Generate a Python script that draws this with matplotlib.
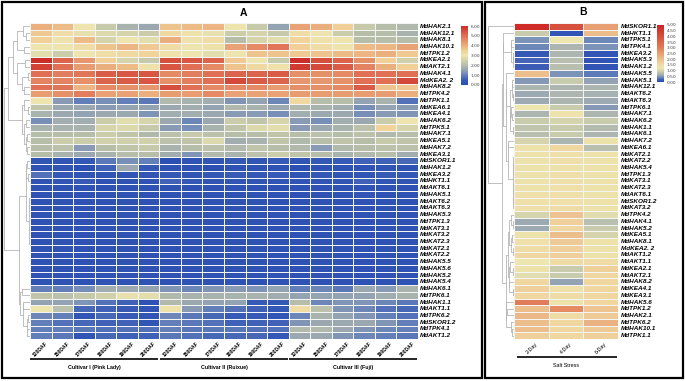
import numpy as np
import matplotlib
matplotlib.use("Agg")
import matplotlib.pyplot as plt
from matplotlib.colors import LinearSegmentedColormap
from matplotlib.patches import Rectangle

# ---- panel A data (fruit development) ----
genes_a = ["MdHAK2.1", "MdHAK12.1", "MdHAK8.1", "MdHAK10.1", "MdTPK1.2", "MdKEA2.1",
           "MdAKT2.1", "MdHAK4.1", "MdKEA2. 2", "MdHAK8.2", "MdTPK4.2", "MdTPK1.1",
           "MdKEA6.1", "MdKEA4.1", "MdHAK6.2", "MdTPK5.1", "MdHAK7.1", "MdKEA5.1",
           "MdHAK7.2", "MdKEA3.1", "MdSKOR1.1", "MdHAK1.2", "MdKEA3.2", "MdHKT1.1",
           "MdAKT6.1", "MdHAK5.1", "MdAKT6.2", "MdAKT6.3", "MdHAK5.3", "MdTPK1.3",
           "MdKAT3.1", "MdKAT3.2", "MdKAT2.3", "MdKAT2.1", "MdKAT2.2", "MdHAK5.5",
           "MdHAK5.6", "MdHAK5.2", "MdHAK5.4", "MdHAK6.1", "MdTPK6.1", "MdHAK1.1",
           "MdAKT1.1", "MdTPK6.2", "MdSKOR1.2", "MdTPK4.1", "MdAKT1.2"]
stages = ["120DAF", "150DAF", "170DAF", "180DAF", "190DAF", "200DAF"]
cultivars = ["Cultivar I (Pink Lady)", "Cultivar II (Ruixue)", "Cultivar III (Fuji)"]

vals_a = [
    [4.0, 3.8, 3.0, 2.3, 1.8, 1.6, 3.7, 3.8, 3.9, 3.0, 2.3, 1.5, 4.2, 4.0, 3.5, 2.3, 2.0, 1.9],
    [3.6, 3.2, 2.9, 2.7, 2.6, 2.4, 3.3, 3.1, 2.9, 2.4, 2.6, 2.3, 3.2, 3.0, 2.4, 2.0, 2.0, 1.8],
    [3.5, 3.1, 3.8, 2.6, 3.0, 2.8, 4.0, 3.1, 3.2, 2.0, 2.6, 2.8, 3.4, 3.1, 3.0, 2.0, 2.0, 2.0],
    [3.0, 3.0, 3.2, 3.7, 3.9, 3.6, 3.2, 3.0, 3.1, 4.2, 4.6, 4.9, 3.5, 3.2, 3.0, 3.8, 3.9, 4.2],
    [2.8, 2.4, 3.0, 3.2, 3.3, 3.4, 3.1, 3.0, 2.8, 3.0, 3.7, 3.7, 3.6, 3.7, 3.8, 3.9, 4.0, 3.6],
    [6.0, 5.2, 4.4, 3.5, 2.6, 2.3, 5.5, 5.4, 5.2, 3.6, 3.0, 2.3, 6.0, 5.5, 5.2, 4.5, 3.5, 2.5],
    [5.7, 5.0, 4.3, 4.0, 3.8, 3.1, 5.4, 5.0, 4.6, 3.7, 3.3, 3.1, 5.8, 5.6, 5.3, 4.7, 4.0, 3.5],
    [5.0, 4.8, 4.9, 5.3, 5.4, 5.4, 4.6, 4.8, 5.0, 5.2, 5.2, 5.3, 4.5, 4.5, 4.6, 5.0, 5.0, 5.0],
    [4.7, 4.7, 4.5, 5.2, 5.3, 5.4, 4.5, 4.8, 5.0, 5.6, 5.3, 5.2, 4.4, 4.4, 4.5, 5.0, 5.0, 5.6],
    [5.0, 4.9, 3.9, 4.6, 4.5, 4.4, 5.5, 5.0, 4.6, 4.6, 4.6, 4.3, 4.5, 4.5, 4.6, 5.3, 3.7, 3.6],
    [4.3, 4.5, 4.8, 4.2, 4.2, 4.0, 4.3, 4.3, 4.6, 4.2, 4.2, 4.2, 4.3, 4.3, 4.3, 4.3, 4.3, 4.0],
    [3.0, 1.4, 1.0, 1.2, 1.0, 0.9, 1.9, 1.8, 1.7, 1.3, 1.5, 1.1, 3.3, 2.0, 2.0, 1.5, 1.8, 0.8],
    [2.2, 1.6, 1.6, 1.4, 1.5, 1.5, 1.6, 1.7, 1.5, 1.9, 1.8, 1.6, 1.9, 1.8, 1.7, 1.2, 1.5, 1.4],
    [1.8, 1.6, 1.5, 1.6, 1.6, 1.3, 1.7, 1.7, 1.6, 1.4, 1.4, 1.2, 1.7, 1.6, 1.6, 1.2, 1.4, 1.3],
    [1.2, 1.7, 1.7, 2.4, 2.8, 2.6, 1.6, 1.1, 1.6, 2.4, 2.2, 2.6, 1.4, 1.2, 1.7, 1.6, 2.4, 3.0],
    [1.8, 1.8, 1.8, 2.6, 2.7, 2.3, 1.4, 1.2, 1.8, 2.2, 2.7, 2.8, 1.4, 1.6, 1.8, 2.1, 3.4, 2.6],
    [2.0, 2.0, 2.0, 2.4, 2.2, 1.9, 2.1, 2.3, 2.1, 2.0, 2.0, 2.2, 2.0, 2.1, 2.0, 2.1, 1.9, 2.0],
    [2.0, 2.4, 2.4, 2.5, 2.5, 2.5, 2.1, 2.2, 2.7, 1.7, 1.8, 2.2, 1.9, 2.0, 2.2, 2.0, 2.3, 2.2],
    [2.0, 2.1, 1.4, 2.0, 2.2, 2.3, 1.8, 2.0, 2.1, 1.9, 2.2, 2.0, 1.9, 1.4, 1.9, 2.0, 2.1, 2.1],
    [2.0, 1.8, 1.6, 1.8, 2.0, 2.0, 1.7, 1.3, 1.9, 1.8, 2.1, 2.4, 2.2, 2.0, 1.8, 1.9, 2.0, 1.7],
    [0.3, 0.3, 0.4, 0.9, 1.2, 1.0, 0.1, 0.2, 0.3, 0.4, 0.3, 0.5, 0.3, 0.4, 0.5, 0.6, 0.6, 0.7],
    [0.2, 0.3, 0.1, 0.6, 1.6, 0.4, 0.2, 0.2, 0.1, 0.2, 0.2, 0.2, 0.1, 0.2, 0.2, 0.2, 0.3, 0.2],
    [0.8, 0.4, 0.3, 0.3, 0.3, 0.3, 0.4, 0.3, 0.4, 0.5, 0.4, 0.5, 0.3, 0.4, 0.3, 0.3, 0.5, 0.4],
    [0.2, 0.3, 0.5, 0.2, 0.2, 0.2, 0.6, 0.4, 0.3, 0.3, 0.3, 0.3, 0.3, 0.3, 0.3, 0.6, 0.3, 0.3],
    [0.2, 0.2, 0.2, 0.2, 0.2, 0.2, 0.2, 0.2, 0.2, 0.2, 0.2, 0.2, 0.2, 0.2, 0.2, 0.2, 0.2, 0.2],
    [0.2, 0.2, 0.2, 0.2, 0.2, 0.2, 0.2, 0.2, 0.2, 0.2, 0.2, 0.2, 0.2, 0.2, 0.2, 0.3, 0.2, 0.2],
    [0.2, 0.2, 0.2, 0.2, 0.2, 0.2, 0.2, 0.2, 0.2, 0.2, 0.2, 0.2, 0.2, 0.2, 0.2, 0.2, 0.2, 0.2],
    [0.2, 0.2, 0.2, 0.2, 0.2, 0.2, 0.2, 0.2, 0.2, 0.2, 0.2, 0.2, 0.2, 0.2, 0.2, 0.2, 0.2, 0.2],
    [0.2, 0.2, 0.2, 0.2, 0.2, 0.2, 0.2, 0.2, 0.2, 0.2, 0.2, 0.2, 0.2, 0.2, 0.2, 0.2, 0.2, 0.2],
    [0.2, 0.2, 0.2, 0.2, 0.2, 0.2, 0.2, 0.2, 0.2, 0.2, 0.2, 0.2, 0.2, 0.2, 0.2, 0.2, 0.2, 0.2],
    [0.2, 0.2, 0.2, 0.2, 0.2, 0.2, 0.2, 0.2, 0.2, 0.2, 0.2, 0.2, 0.2, 0.2, 0.2, 0.2, 0.2, 0.2],
    [0.2, 0.2, 0.2, 0.2, 0.2, 0.2, 0.2, 0.2, 0.2, 0.2, 0.2, 0.2, 0.2, 0.2, 0.2, 0.2, 0.2, 0.2],
    [0.2, 0.2, 0.2, 0.2, 0.2, 0.2, 0.2, 0.2, 0.2, 0.2, 0.2, 0.2, 0.2, 0.2, 0.2, 0.2, 0.2, 0.2],
    [0.2, 0.2, 0.2, 0.2, 0.2, 0.2, 0.2, 0.2, 0.2, 0.2, 0.2, 0.2, 0.2, 0.2, 0.2, 0.2, 0.2, 0.2],
    [0.2, 0.2, 0.2, 0.2, 0.2, 0.2, 0.2, 0.2, 0.2, 0.2, 0.2, 0.2, 0.2, 0.2, 0.2, 0.2, 0.2, 0.2],
    [0.2, 0.2, 0.2, 0.2, 0.2, 0.2, 0.2, 0.2, 0.2, 0.2, 0.2, 0.2, 0.2, 0.2, 0.2, 0.2, 0.2, 0.2],
    [0.2, 0.2, 0.2, 0.2, 0.2, 0.2, 0.2, 0.2, 0.2, 0.2, 0.2, 0.2, 0.2, 0.2, 0.2, 0.2, 0.2, 0.2],
    [0.2, 0.2, 0.2, 0.2, 0.2, 0.2, 0.2, 0.2, 0.2, 0.2, 0.2, 0.2, 0.2, 0.2, 0.2, 0.2, 0.2, 0.2],
    [0.2, 0.2, 0.2, 0.2, 0.2, 0.2, 0.2, 0.2, 0.2, 0.2, 0.2, 0.2, 0.2, 0.2, 0.2, 0.2, 0.2, 0.2],
    [1.0, 1.0, 1.2, 1.7, 1.6, 1.5, 1.3, 1.1, 1.3, 1.4, 1.3, 1.5, 1.0, 1.1, 0.9, 1.6, 1.4, 1.8],
    [2.2, 2.1, 2.3, 2.5, 2.9, 2.8, 1.9, 1.8, 1.8, 1.8, 1.8, 1.7, 1.5, 1.5, 1.5, 1.5, 1.7, 1.8],
    [1.5, 1.5, 1.3, 0.8, 0.6, 0.2, 1.9, 1.6, 1.5, 1.5, 0.5, 0.4, 2.0, 1.1, 1.3, 1.3, 1.1, 0.9],
    [3.0, 2.1, 0.7, 0.6, 0.5, 0.3, 3.1, 1.4, 1.0, 0.8, 0.6, 0.4, 3.2, 2.1, 1.3, 1.1, 0.8, 0.7],
    [1.1, 1.0, 0.3, 0.7, 0.5, 0.3, 1.1, 0.9, 0.7, 0.5, 0.5, 0.3, 1.1, 1.8, 1.5, 1.3, 1.0, 0.8],
    [1.0, 0.8, 0.7, 0.6, 0.6, 0.3, 1.0, 0.9, 0.8, 0.6, 0.6, 0.6, 1.3, 1.6, 1.6, 1.6, 1.3, 1.0],
    [1.0, 1.0, 0.9, 0.8, 0.8, 0.8, 1.0, 0.9, 0.9, 0.9, 0.8, 0.8, 1.9, 1.9, 1.6, 1.3, 1.1, 1.0],
    [1.0, 0.9, 0.3, 0.7, 0.6, 0.6, 0.9, 0.8, 0.7, 0.7, 0.7, 0.4, 1.6, 1.6, 1.3, 1.1, 1.0, 0.9],
]

# tree order of panel A rows (row indices)
tree_a = (((((0, (1, 2)), (3, 4)), ((5, 6), ((7, 8), (9, 10)))),
           ((11, (12, 13)), ((14, 15), ((16, 17), (18, 19))))),
          ((((20, 21), (22, 23)), (((24, 25), (26, 27)), (((28, 29), (30, 31)),
            (((32, 33), (34, 35)), ((36, 37), 38))))),
           ((39, 40), ((41, 42), ((43, 44), (45, 46))))))

# ---- panel B data (salt stress) ----
genes_b = ["MdSKOR1.1", "MdHKT1.1", "MdTPK5.1", "MdTPK4.1", "MdKEA3.2", "MdHAK5.3",
           "MdHAK1.2", "MdHAK5.5", "MdHAK5.1", "MdHAK12.1", "MdAKT6.2", "MdAKT6.3",
           "MdTPK6.1", "MdHAK7.1", "MdHAK6.2", "MdHAK1.1", "MdHAK6.1", "MdHAK7.2",
           "MdKEA6.1", "MdKAT2.1", "MdKAT2.2", "MdHAK5.4", "MdTPK1.3", "MdKAT3.1",
           "MdKAT2.3", "MdAKT6.1", "MdSKOR1.2", "MdKAT3.2", "MdTPK4.2", "MdHAK4.1",
           "MdHAK5.2", "MdKEA5.1", "MdHAK8.1", "MdKEA2. 2", "MdAKT1.2", "MdAKT1.1",
           "MdKEA2.1", "MdAKT2.1", "MdHAK8.2", "MdKEA4.1", "MdKEA3.1", "MdHAK5.6",
           "MdTPK1.2", "MdHAK2.1", "MdTPK6.2", "MdHAK10.1", "MdTPK1.1"]
days = ["2-Day", "4-Day", "6-Day"]
vals_b = [
    [4.8, 4.0, 2.5], [0.9, 0.1, 2.0], [0.45, 1.2, 0.4], [0.4, 0.7, 0.45],
    [0.15, 0.7, 0.1], [0.25, 0.8, 0.1], [0.2, 0.8, 0.1], [2.0, 0.45, 0.35],
    [0.5, 0.9, 0.55], [0.7, 0.7, 0.7], [0.6, 0.7, 0.65], [0.6, 0.7, 0.6],
    [1.2, 0.9, 0.5], [0.7, 1.3, 0.7], [0.9, 1.0, 0.9], [0.85, 0.9, 0.75],
    [0.8, 0.9, 0.7], [1.0, 0.7, 1.3], [1.3, 1.6, 0.8], [1.3, 1.4, 1.3],
    [1.3, 1.4, 1.3], [1.3, 1.3, 1.3], [1.3, 1.4, 1.3], [1.3, 1.4, 1.3],
    [1.3, 1.4, 1.3], [1.4, 1.4, 1.3], [1.4, 1.4, 1.3], [1.4, 1.5, 1.3],
    [1.0, 1.9, 1.1], [0.6, 1.7, 0.8], [0.6, 1.6, 0.9], [1.3, 2.0, 1.0],
    [1.4, 1.8, 1.3], [1.5, 1.7, 1.3], [1.6, 1.7, 1.3], [1.2, 1.5, 1.5],
    [1.3, 0.9, 1.7], [1.1, 0.9, 1.6], [1.6, 0.55, 1.6], [1.7, 1.4, 1.6],
    [1.6, 1.5, 1.6], [3.0, 1.3, 1.6], [2.0, 2.8, 1.9], [2.1, 1.5, 1.8],
    [2.0, 1.6, 2.2], [2.0, 1.6, 1.8], [1.7, 1.6, 1.7],
]
tree_b = (0, (((1, ((2, 3), ((4, 5), 6))),
               ((7, (((8, 9), (10, 11)), ((12, (13, 14)), (15, 16)))),
                ((17, 18), (((19, 20), (21, 22)), ((23, 24), ((25, 26), 27)))))),
              ((((28, (29, 30)), ((31, 32), (33, 34))), ((35, (36, 37)), (38, (39, 40)))),
               (41, ((42, 43), (44, (45, 46)))))))

# colour maps
def rgb(*c):
    return tuple(v / 255 for v in c)

nodes_a = [(0.0, rgb(40, 78, 180)), (0.5, rgb(55, 90, 182)), (1.0, rgb(100, 128, 185)),
           (1.5, rgb(148, 163, 178)), (2.0, rgb(182, 190, 170)), (2.5, rgb(208, 208, 170)),
           (3.0, rgb(238, 230, 175)), (3.5, rgb(240, 208, 150)), (4.0, rgb(235, 175, 125)),
           (4.5, rgb(230, 145, 105)), (5.0, rgb(224, 112, 85)), (5.5, rgb(215, 80, 62)),
           (6.0, rgb(205, 45, 40))]
cmap_a = LinearSegmentedColormap.from_list("a", [(v / 6.0, c) for v, c in nodes_a])
nodes_b = [(0.0, rgb(40, 78, 180)), (0.2, rgb(60, 92, 182)), (0.4, rgb(110, 138, 185)),
           (0.6, rgb(160, 172, 178)), (0.9, rgb(200, 203, 172)), (1.2, rgb(238, 230, 175)),
           (1.6, rgb(240, 215, 160)), (2.0, rgb(236, 190, 140)), (2.5, rgb(232, 160, 115)),
           (3.0, rgb(225, 125, 90)), (4.0, rgb(215, 80, 62)), (5.0, rgb(205, 35, 35))]
cmap_b = LinearSegmentedColormap.from_list("b", [(v / 5.0, c) for v, c in nodes_b])

W, H = 685, 381
def box(x0, y0, x1, y1):
    # pixel box (top-left origin) -> figure fraction rect
    return [x0 / W, 1 - y1 / H, (x1 - x0) / W, (y1 - y0) / H]

def leaves(n):
    if isinstance(n, int):
        return [n]
    return leaves(n[0]) + leaves(n[1])

def draw_tree(ax, n, data):
    if isinstance(n, int):
        return n + 0.5, 0.0
    y1, h1 = draw_tree(ax, n[0], data)
    y2, h2 = draw_tree(ax, n[1], data)
    a = data[leaves(n[0])]
    b = data[leaves(n[1])]
    d = np.sqrt(((a[:, None, :] - b[None, :, :]) ** 2).sum(-1)).mean()
    h = max(d, h1, h2) + 0.05
    ax.plot([h1, h, h, h2], [y1, y1, y2, y2], color="#b5b5b5", lw=0.6)
    return (y1 + y2) / 2, h

label_font = dict(family="Liberation Sans", fontsize=4.6, fontweight="bold", fontstyle="italic")

fig = plt.figure(figsize=(6.85, 3.81), dpi=100)

def panel(data, genes, cmap, vmax, hm, dg, tree):
    data = np.array(data)
    ax = fig.add_axes(box(*hm))
    ax.pcolormesh(data, cmap=cmap, vmin=0, vmax=vmax, edgecolors="#f4f4f4", linewidth=0.45)
    ax.set_xlim(0, data.shape[1])
    ax.set_ylim(data.shape[0], 0)
    ax.set_xticks([])
    ax.set_yticks([])
    for s in ax.spines.values():
        s.set_visible(False)
    for i, g in enumerate(genes):
        ax.text(data.shape[1] + 0.08, i + 0.5, g, va="center", ha="left", **label_font)
    axd = fig.add_axes(box(*dg))
    _, top = draw_tree(axd, tree, data)
    axd.set_ylim(data.shape[0], 0)
    axd.set_xlim(top * 1.01, 0)
    axd.axis("off")
    return ax

# panel frames
for b in [(2, 2, 482, 378), (485, 2, 683, 378)]:
    fig.patches.append(Rectangle((b[0] / W, 1 - b[3] / H), (b[2] - b[0]) / W, (b[3] - b[1]) / H,
                                 transform=fig.transFigure, fill=False, ec="black", lw=1.6))

ax_a = panel(vals_a, genes_a, cmap_a, 6.0, (30, 23, 418, 339), (4, 23, 30, 339), tree_a)
ax_b = panel(vals_b, genes_b, cmap_b, 5.0, (514, 23, 618, 339), (488, 23, 514, 339), tree_b)

fig.text(243 / W, 1 - 13 / H, "A", ha="center", va="center", fontsize=7.5, fontweight="bold",
         family="Liberation Sans")
fig.text(583 / W, 1 - 12 / H, "B", ha="center", va="center", fontsize=7.5, fontweight="bold",
         family="Liberation Sans")

# column labels panel A
for k in range(3):
    for j, s in enumerate(stages):
        ax_a.text(k * 6 + j + 0.8, 47.6, s, rotation=45, rotation_mode="anchor", ha="right",
                  va="center", fontsize=3.6, fontweight="bold", family="Liberation Sans")
    ax_a.plot([k * 6 + 0.02, k * 6 + 5.95], [50.0, 50.0], color="black", lw=1.2, clip_on=False,
              solid_capstyle="butt")
    ax_a.text(k * 6 + 3, 51.3, cultivars[k], ha="center", va="center", fontsize=3.8,
              fontweight="bold", family="Liberation Sans")

for j, s in enumerate(days):
    ax_b.text(j + 0.65, 47.6, s, rotation=45, rotation_mode="anchor", ha="right",
              va="center", fontsize=3.8, family="Liberation Sans")
ax_b.plot([0.08, 2.97], [49.7, 49.7], color="black", lw=1.2, clip_on=False, solid_capstyle="butt")
ax_b.text(1.5, 51.0, "Salt Stress", ha="center", va="center", fontsize=3.9, family="Liberation Sans")

# colour bars
for cmap, vmax, step, b in [(cmap_a, 6.0, 1.0, (461, 26, 468, 85)), (cmap_b, 5.0, 0.5, (657, 25, 664, 82))]:
    cax = fig.add_axes(box(*b))
    sm = plt.cm.ScalarMappable(cmap=cmap, norm=plt.Normalize(0, vmax))
    cb = fig.colorbar(sm, cax=cax)
    cb.outline.set_visible(False)
    ticks = np.arange(0, vmax + 0.01, step)
    cb.set_ticks(ticks)
    cb.set_ticklabels(["%.2f" % t for t in ticks])
    cax.tick_params(length=0, pad=2, labelsize=3.2, labelcolor="#444444")

fig.savefig("out.png", dpi=100)
